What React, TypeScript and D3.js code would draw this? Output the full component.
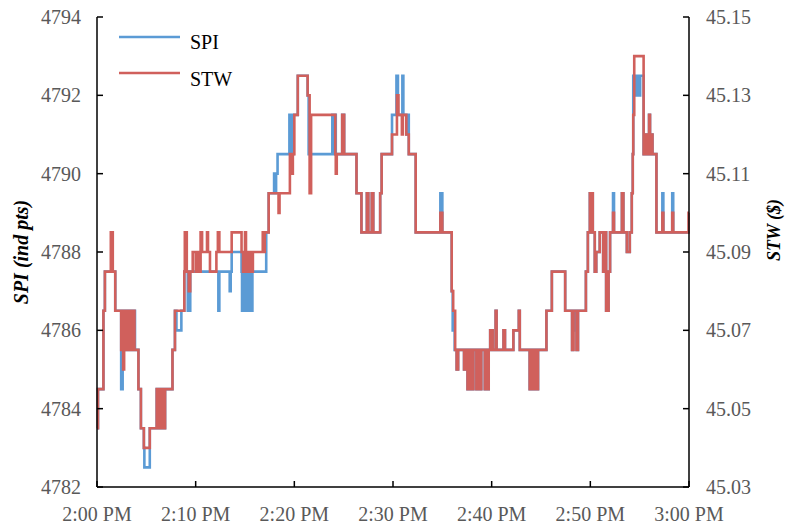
import React from "react";
import * as d3 from "d3";

// minutes after 2:00 PM, SPI index points
const spiSteps: [number, number][] = [
  [0, 4783.5], [0.1, 4784.5], [0.65, 4786.5], [0.8, 4787.5], [1.85, 4786.5], [2.45, 4784.5], [2.6, 4786.5],
  [2.75, 4785.5], [2.85, 4786.5], [3.0, 4785.5], [3.1, 4786.5], [3.35, 4785.5], [3.45, 4786.5], [3.6, 4785.5],
  [3.75, 4786.5], [3.85, 4785.5], [4.2, 4784.5], [4.45, 4783.5], [4.75, 4783], [4.8, 4782.5], [5.35, 4783.5],
  [6.05, 4784.5], [6.3, 4783.5], [6.55, 4784.5], [6.7, 4783.5], [6.9, 4784.5], [7.65, 4785.5], [7.9, 4786.5],
  [8.05, 4786], [8.55, 4786.5], [8.85, 4787.5], [9.2, 4786.5], [9.45, 4787.5], [12.3, 4786.5], [12.4, 4787.5],
  [13.45, 4787], [13.55, 4787.5], [13.65, 4788], [14.65, 4787.5], [14.7, 4786.5], [14.8, 4787.5], [14.85, 4786.5],
  [14.95, 4787.5], [15.0, 4786.5], [15.1, 4787.5], [15.15, 4786.5], [15.25, 4787.5], [15.3, 4786.5],
  [15.45, 4787.5], [15.5, 4786.5], [15.6, 4787.5], [15.65, 4786.5], [15.75, 4787.5], [17.15, 4788.5],
  [17.4, 4789.5], [17.95, 4790], [18.05, 4789.5], [18.15, 4790], [18.3, 4790.5], [19.5, 4791.5], [19.6, 4790.5],
  [19.7, 4791.5], [19.8, 4790.5], [19.9, 4791.5], [20.35, 4792.5], [21.35, 4792], [21.45, 4790.5],
  [23.85, 4791.5], [23.95, 4790.5], [24.05, 4791.5], [24.2, 4790.5], [24.85, 4791.5], [25.05, 4790.5],
  [26.3, 4789.5], [26.8, 4788.5], [27.35, 4789.5], [27.5, 4788.5], [27.85, 4789.5], [28.0, 4788.5],
  [28.7, 4789.5], [28.85, 4790.5], [29.9, 4791.5], [30.35, 4792.5], [30.5, 4791.5], [30.95, 4792.5],
  [31.05, 4791.5], [31.35, 4791], [31.45, 4791.5], [31.6, 4790.5], [32.3, 4788.5], [34.8, 4789.5],
  [35.0, 4788.5], [35.95, 4787], [36.05, 4786], [36.25, 4785.5], [36.45, 4785], [36.6, 4785.5], [37.2, 4785],
  [37.4, 4785.5], [37.55, 4784.5], [37.75, 4785.5], [37.95, 4784.5], [38.15, 4785.5], [38.45, 4784.5],
  [38.6, 4785.5], [38.75, 4784.5], [38.95, 4785.5], [39.3, 4784.5], [39.45, 4785.5], [39.55, 4784.5],
  [39.7, 4785.5], [39.85, 4786], [40.1, 4785.5], [40.4, 4786.5], [40.5, 4785.5], [41.2, 4786], [41.35, 4785.5],
  [42.2, 4786], [42.75, 4786.5], [42.85, 4785.5], [43.85, 4784.5], [44.05, 4785.5], [44.2, 4784.5],
  [44.4, 4785.5], [44.55, 4784.5], [44.7, 4785.5], [45.55, 4786.5], [46.1, 4787.5], [47.45, 4786.5],
  [48.15, 4785.5], [48.25, 4786], [48.35, 4786.5], [48.6, 4785.5], [48.75, 4786.5], [49.55, 4787.5],
  [49.75, 4788.5], [49.95, 4789.5], [50.05, 4788.5], [50.1, 4789.5], [50.25, 4788.5], [50.45, 4787.5],
  [50.6, 4788], [50.95, 4788.5], [51.3, 4787.5], [51.45, 4788.5], [51.6, 4786.5], [51.85, 4787.5],
  [52.0, 4788.5], [52.3, 4789.5], [52.4, 4788.5], [53.2, 4789.5], [53.35, 4788.5], [53.7, 4788], [54.0, 4788.5],
  [54.2, 4789.5], [54.3, 4790.5], [54.35, 4792.5], [54.55, 4792], [54.65, 4792.5], [54.75, 4792],
  [54.85, 4792.5], [54.95, 4792], [55.05, 4792.5], [55.4, 4790.5], [55.6, 4791], [55.8, 4790.5],
  [55.95, 4791.5], [56.05, 4790.5], [56.15, 4791], [56.3, 4790.5], [56.7, 4788.5], [57.3, 4789.5],
  [57.4, 4788.5], [58.3, 4789.5], [58.4, 4788.5],
];

// minutes after 2:00 PM, STW in dollars
const stwSteps: [number, number][] = [
  [0, 45.045], [0.1, 45.055], [0.65, 45.075], [0.8, 45.085], [1.4, 45.095], [1.6, 45.085], [1.85, 45.075],
  [2.45, 45.065], [2.55, 45.075], [2.65, 45.06], [2.75, 45.075], [2.85, 45.065], [3.0, 45.075], [3.1, 45.065],
  [3.2, 45.075], [3.35, 45.065], [3.45, 45.075], [3.6, 45.065], [3.7, 45.075], [3.8, 45.065], [4.2, 45.055],
  [4.45, 45.045], [4.75, 45.04], [5.35, 45.045], [6.05, 45.055], [6.3, 45.045], [6.55, 45.055], [6.7, 45.045],
  [6.9, 45.055], [7.65, 45.065], [7.9, 45.075], [8.85, 45.085], [8.9, 45.095], [9.1, 45.085], [9.3, 45.08],
  [9.45, 45.085], [9.7, 45.09], [10.0, 45.085], [10.15, 45.09], [10.4, 45.085], [10.5, 45.095], [10.65, 45.09],
  [11.15, 45.095], [11.25, 45.09], [11.45, 45.085], [12.1, 45.09], [12.25, 45.095], [12.4, 45.09],
  [13.65, 45.095], [14.65, 45.09], [14.8, 45.085], [15.0, 45.095], [15.1, 45.085], [15.2, 45.09],
  [15.35, 45.085], [15.5, 45.09], [15.65, 45.085], [15.8, 45.09], [16.8, 45.095], [16.9, 45.09],
  [17.0, 45.095], [17.4, 45.105], [18.4, 45.1], [18.5, 45.105], [19.55, 45.115], [19.7, 45.11],
  [19.85, 45.115], [20.0, 45.125], [20.35, 45.135], [21.35, 45.13], [21.55, 45.105], [21.7, 45.125],
  [24.15, 45.115], [24.2, 45.11], [24.3, 45.115], [24.85, 45.125], [25.05, 45.115], [26.3, 45.105],
  [26.8, 45.095], [27.35, 45.105], [27.5, 45.095], [27.85, 45.105], [28.0, 45.095], [28.7, 45.105],
  [28.85, 45.115], [29.9, 45.12], [30.4, 45.13], [30.55, 45.125], [30.9, 45.12], [31.0, 45.125],
  [31.35, 45.12], [31.6, 45.115], [32.3, 45.095], [34.8, 45.1], [35.0, 45.095], [35.95, 45.08],
  [36.1, 45.075], [36.3, 45.065], [36.45, 45.06], [36.6, 45.065], [37.2, 45.06], [37.4, 45.065],
  [37.55, 45.055], [37.75, 45.065], [37.95, 45.055], [38.15, 45.065], [38.45, 45.055], [38.6, 45.065],
  [38.75, 45.055], [38.95, 45.065], [39.3, 45.055], [39.45, 45.065], [39.55, 45.055], [39.7, 45.065],
  [39.85, 45.07], [40.1, 45.065], [40.4, 45.075], [40.5, 45.065], [41.2, 45.07], [41.35, 45.065],
  [42.2, 45.07], [42.75, 45.075], [42.85, 45.065], [43.85, 45.055], [44.05, 45.065], [44.2, 45.055],
  [44.4, 45.065], [44.55, 45.055], [44.7, 45.065], [45.55, 45.075], [46.1, 45.085], [47.45, 45.075],
  [48.15, 45.065], [48.3, 45.075], [48.6, 45.065], [48.75, 45.075], [49.55, 45.085], [49.75, 45.095],
  [49.95, 45.105], [50.05, 45.095], [50.1, 45.105], [50.25, 45.095], [50.45, 45.085], [50.6, 45.09],
  [50.95, 45.095], [51.3, 45.085], [51.45, 45.095], [51.6, 45.075], [51.85, 45.085], [52.0, 45.095],
  [52.3, 45.1], [52.4, 45.095], [53.2, 45.105], [53.35, 45.095], [53.7, 45.09], [54.0, 45.095],
  [54.2, 45.105], [54.3, 45.115], [54.35, 45.125], [54.45, 45.14], [55.4, 45.115], [55.6, 45.12],
  [55.8, 45.115], [55.95, 45.125], [56.05, 45.115], [56.15, 45.12], [56.3, 45.115], [56.7, 45.095],
  [57.3, 45.1], [57.4, 45.095], [58.3, 45.1], [58.4, 45.095], [59.95, 45.1],
];

const spiTicks = [4782, 4784, 4786, 4788, 4790, 4792, 4794];
const stwTicks = [45.03, 45.05, 45.07, 45.09, 45.11, 45.13, 45.15];
const seriesNames = ["SPI", "STW"];
const seriesColors = ["#5B9BD5", "#D0605C"];

const W = 789, H = 527;
const L = 97, R = 689, T = 17, B = 487;
const START = new Date(2024, 0, 1, 14, 0);
const END = new Date(2024, 0, 1, 15, 0);
const toDate = (m: number) => new Date(START.getTime() + m * 60000);

export default function App() {
  const x = d3.scaleTime().domain([START, END]).range([L, R]);
  const yL = d3.scaleLinear().domain([4782, 4794]).range([B, T]);
  const yR = d3.scaleLinear().domain([45.03, 45.15]).range([B, T]);
  const xTicks = x.ticks(d3.timeMinute.every(10) as any);
  const fmt = d3.timeFormat("%-I:%M %p");

  const withEnd = (s: [number, number][]) => [...s, [60, s[s.length - 1][1]] as [number, number]];
  const lineL = d3.line<[number, number]>().x(d => x(toDate(d[0]))).y(d => yL(d[1])).curve(d3.curveStepAfter);
  const lineR = d3.line<[number, number]>().x(d => x(toDate(d[0]))).y(d => yR(d[1])).curve(d3.curveStepAfter);

  const font = "'Liberation Serif', 'Times New Roman', serif";
  const gray = "#595959";

  return (
    <svg width={W} height={H} style={{ position: "absolute", left: 0, top: 0, background: "#fff" }} fontFamily={font}>
      <path d={lineL(withEnd(spiSteps)) || ""} fill="none" stroke={seriesColors[0]} strokeWidth={2.6} strokeLinejoin="miter" />
      <path d={lineR(withEnd(stwSteps)) || ""} fill="none" stroke={seriesColors[1]} strokeWidth={2.6} strokeLinejoin="miter" />

      {/* axes */}
      <g stroke="#000" strokeWidth={1.5} fill="none">
        <line x1={L} x2={L} y1={T} y2={B} />
        <line x1={R} x2={R} y1={T} y2={B} />
        <line x1={L} x2={R} y1={B} y2={B} />
        {spiTicks.map(t => <line key={"l" + t} x1={L} x2={L + 6} y1={yL(t)} y2={yL(t)} />)}
        {stwTicks.map(t => <line key={"r" + t} x1={R - 6} x2={R} y1={yR(t)} y2={yR(t)} />)}
        {xTicks.map((t, i) => <line key={"x" + i} x1={x(t)} x2={x(t)} y1={B} y2={B - 6} />)}
      </g>

      <g fontSize={20} fill={gray}>
        {spiTicks.map(t => (
          <text key={"lt" + t} x={81} y={yL(t)} dy="0.35em" textAnchor="end">{t}</text>
        ))}
        {stwTicks.map(t => (
          <text key={"rt" + t} x={706} y={yR(t)} dy="0.35em" textAnchor="start">{t.toFixed(2)}</text>
        ))}
        {xTicks.map((t, i) => (
          <text key={"xt" + i} x={x(t)} y={521} textAnchor="middle">{fmt(t)}</text>
        ))}
      </g>

      <text transform={`translate(28,252) rotate(-90)`} textAnchor="middle" fontSize={20} fontWeight="bold" fontStyle="italic" fill="#000">SPI (ind pts)</text>
      <text transform={`translate(780,230) rotate(-90)`} textAnchor="middle" fontSize={18} fontWeight="bold" fontStyle="italic" fill="#000">STW ($)</text>

      {/* legend */}
      {seriesNames.map((n, i) => (
        <g key={n}>
          <line x1={119} x2={180} y1={37 + i * 36} y2={37 + i * 36} stroke={seriesColors[i]} strokeWidth={2.6} />
          <text x={190} y={49 + i * 37} fontSize={20} fill="#000">{n}</text>
        </g>
      ))}
    </svg>
  );
}
